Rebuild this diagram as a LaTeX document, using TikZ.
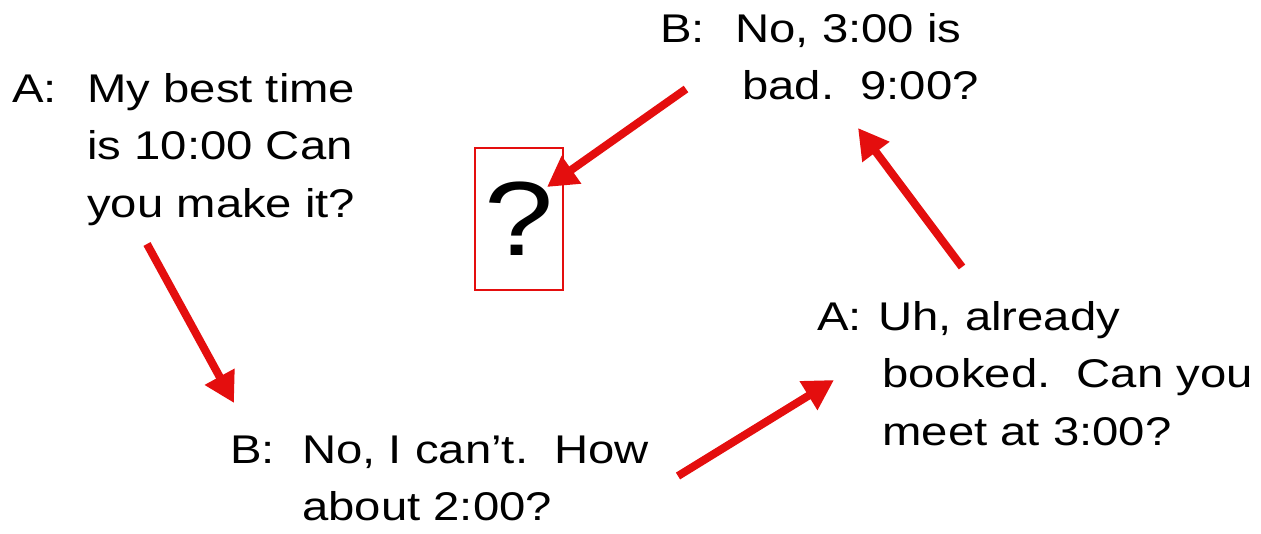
\documentclass[tikz,border=0pt]{standalone}
\usepackage{fontspec}
\setmainfont[FakeStretch=1.18]{Liberation Sans}
\usetikzlibrary{arrows.meta}
\definecolor{turnred}{RGB}{228,14,14}
\newcommand{\who}[2]{\makebox[#1][l]{#2}}
\tikzset{
  say/.style={anchor=base west, inner sep=0pt, font=\fontsize{22.8}{33}\selectfont},
  turn/.style={draw=turnred, line width=0.16cm, -{Triangle[length=0.6cm,width=0.64cm]}},
}

\begin{document}
\begin{tikzpicture}[x=0.02cm,y=-0.02cm]
          \useasboundingbox (0,0) rectangle (1261,534);
          \begin{scope}[every node/.style={say}]
            \node (a1) at (12,102) {\begin{tabular}[t]{@{}l@{}l@{}}\who{1.5cm}{A:} & My best time\\ & is 10:00 Can\\ & you make it?\end{tabular}};
            \node (b1) at (230,463) {\begin{tabular}[t]{@{}l@{}l@{}}\who{1.44cm}{B:} & No, I can’t.\ \ How\\ & about 2:00?\end{tabular}};
            \node (a2) at (817,330) {\begin{tabular}[t]{@{}l@{}l@{}}\who{1.22cm}{A:} & Uh, already\\ & \hspace{0.08cm}booked.\ \ Can you\\ & \hspace{0.08cm}meet at 3:00?\end{tabular}};
            \node (b2) at (660,42) {\begin{tabular}[t]{@{}l@{}l@{}}\who{1.5cm}{B:} & No, 3:00 is\\ & \hspace{0.14cm}bad.\ \ 9:00?\end{tabular}};
          \end{scope}
          \node (q) [draw=turnred, line width=1.2pt, minimum width=1.76cm, minimum height=2.84cm, inner sep=0pt, font=\fontsize{60}{60}\selectfont] at (519,219) {?};
          \coordinate (s1) at (147,244);
          \coordinate (e1) at (234,403);
          \coordinate (s2) at (678,476);
          \coordinate (e2) at (834,380);
          \coordinate (s3) at (962,267);
          \coordinate (e3) at (858,128);
          \coordinate (s4) at (686,89);
          \coordinate (e4) at (547,187);
          \path (s1) edge [turn] (e1);
          \path (s2) edge [turn] (e2);
          \path (s3) edge [turn] (e3);
          \path (s4) edge [turn] (e4);
        \end{tikzpicture}
\end{document}
